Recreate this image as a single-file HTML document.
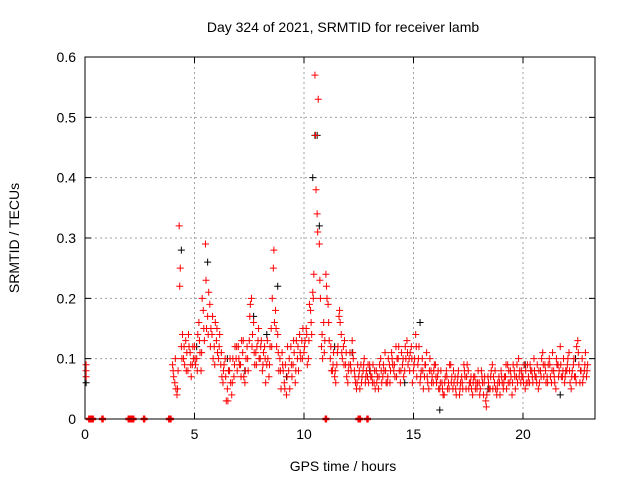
<!DOCTYPE html>
<html><head><meta charset="utf-8">
<style>
body{margin:0;background:#fff;}
svg{display:block;font-family:"Liberation Sans",sans-serif;}
</style></head>
<body>
<svg id="chart" width="640" height="480" xmlns="http://www.w3.org/2000/svg">
<rect width="640" height="480" fill="#fff"/>
<text x="343" y="32" font-size="14" text-anchor="middle">Day 324 of 2021, SRMTID for receiver lamb</text>
<text x="343" y="471" font-size="14" text-anchor="middle">GPS time / hours</text>
<text x="19" y="238" font-size="14" text-anchor="middle" transform="rotate(-90 19 238)">SRMTID / TECUs</text>
<g id="grid"></g>
<g id="marks"></g>
<rect x="85" y="57" width="510" height="362" fill="none" stroke="#000" stroke-width="1"/>
<g id="axes"></g>
</svg>
<script>
const xTicks=[0,5,10,15,20];
const yTicks=[0,0.1,0.2,0.3,0.4,0.5,0.6];
const yTickLabels=["0","0.1","0.2","0.3","0.4","0.5","0.6"];
const seriesStart=4.0;
const redA=[0.09,0.06,0.04,0.32,0.12,0.10,0.13,0.08,0.11,0.09,
0.12,0.10,0.16,0.08,0.18,0.29,0.17,0.19,0.14,0.12,
0.13,0.10,0.09,0.06,0.10,0.05,0.08,0.04,0.07,0.10,
0.12,0.09,0.11,0.06,0.12,0.13,0.20,0.16,0.11,0.13,
0.10,0.08,0.12,0.09,0.07,0.15,0.25,0.18,0.14,0.10,
0.11,0.06,0.04,0.08,0.12,0.09,0.06,0.10,0.14,0.13,
0.11,0.15,0.10,0.18,0.21,0.57,0.34,0.29,0.12,0.16,
0.24,0.19,0.10,0.08,0.07,0.09,0.17,0.14,0.12,0.09,
0.06,0.11,0.13,0.08,0.05,0.07,0.09,0.08,0.06,0.07,
0.09,0.07,0.06,0.08,0.05,0.10,0.07,0.11,0.06,0.09,
0.11,0.08,0.12,0.10,0.06,0.09,0.08,0.13,0.10,0.12,
0.08,0.14,0.09,0.06,0.10,0.07,0.11,0.05,0.08,0.06,
0.09,0.07,0.05,0.06,0.04,0.08,0.06,0.09,0.05,0.07,
0.06,0.04,0.07,0.09,0.05,0.08,0.06,0.04,0.07,0.05,
0.06,0.08,0.04,0.03,0.07,0.05,0.09,0.06,0.04,0.07,
0.08,0.05,0.07,0.09,0.06,0.04,0.08,0.07,0.10,0.06,
0.07,0.05,0.09,0.06,0.08,0.10,0.07,0.05,0.08,0.11,
0.09,0.07,0.10,0.06,0.08,0.05,0.09,0.12,0.07,0.06,
0.08,0.11,0.05,0.09,0.07,0.13,0.06,0.10,0.08,0.07];
const redB=[0.07,0.05,0.08,0.25,0.14,0.09,0.11,0.12,0.07,0.10,
0.09,0.14,0.11,0.20,0.13,0.15,0.21,0.15,0.10,0.16,
0.11,0.14,0.07,0.09,0.03,0.08,0.06,0.10,0.12,0.08,
0.09,0.13,0.07,0.10,0.08,0.19,0.14,0.09,0.12,0.10,
0.13,0.11,0.06,0.10,0.12,0.20,0.16,0.12,0.08,0.05,
0.08,0.09,0.12,0.05,0.07,0.11,0.13,0.08,0.10,0.15,
0.13,0.09,0.19,0.14,0.24,0.38,0.53,0.20,0.10,0.13,
0.20,0.13,0.08,0.11,0.06,0.12,0.16,0.10,0.13,0.07,
0.09,0.08,0.10,0.06,0.09,0.05,0.07,0.10,0.08,0.06,
0.07,0.09,0.05,0.07,0.09,0.06,0.08,0.06,0.10,0.08,
0.09,0.07,0.10,0.08,0.11,0.07,0.10,0.09,0.11,0.06,
0.10,0.07,0.12,0.08,0.05,0.09,0.06,0.10,0.07,0.09,
0.06,0.05,0.08,0.04,0.07,0.05,0.09,0.07,0.06,0.04,
0.08,0.06,0.05,0.07,0.09,0.06,0.05,0.07,0.06,0.08,
0.05,0.06,0.07,0.04,0.05,0.08,0.07,0.05,0.06,0.04,
0.06,0.07,0.05,0.08,0.07,0.09,0.05,0.06,0.08,0.07,
0.09,0.06,0.07,0.08,0.06,0.07,0.09,0.06,0.10,0.07,
0.06,0.09,0.07,0.11,0.06,0.09,0.08,0.07,0.10,0.08,
0.10,0.06,0.08,0.07,0.12,0.09,0.08,0.07,0.11,0.09];
const redC=[0.08,0.10,0.05,0.22,0.10,0.12,0.08,0.14,0.09,0.12,
0.10,0.08,0.13,0.11,0.15,0.23,0.14,0.12,0.17,0.09,
0.15,0.12,0.11,0.08,0.07,0.03,0.10,0.06,0.09,0.12,
0.10,0.07,0.13,0.08,0.10,0.17,0.12,0.11,0.09,0.15,
0.12,0.09,0.10,0.13,0.09,0.12,0.28,0.15,0.11,0.08,
0.09,0.05,0.07,0.10,0.09,0.13,0.08,0.12,0.11,0.10,
0.12,0.14,0.13,0.16,0.20,0.47,0.31,0.23,0.14,0.11,
0.22,0.16,0.12,0.09,0.08,0.11,0.18,0.11,0.09,0.11,
0.08,0.09,0.11,0.07,0.06,0.08,0.06,0.09,0.07,0.09,
0.08,0.06,0.08,0.06,0.07,0.08,0.09,0.08,0.07,0.06,
0.10,0.09,0.07,0.12,0.08,0.10,0.12,0.11,0.08,0.10,
0.09,0.12,0.10,0.07,0.08,0.09,0.07,0.08,0.06,0.08,
0.07,0.08,0.06,0.05,0.06,0.07,0.05,0.06,0.08,0.05,
0.07,0.05,0.06,0.08,0.07,0.05,0.07,0.06,0.05,0.06,
0.04,0.07,0.06,0.02,0.06,0.07,0.05,0.08,0.05,0.06,
0.07,0.06,0.09,0.06,0.08,0.06,0.07,0.09,0.07,0.08,
0.06,0.08,0.06,0.09,0.07,0.08,0.06,0.08,0.07,0.09,
0.08,0.06,0.09,0.08,0.07,0.10,0.07,0.09,0.08,0.07,
0.09,0.08,0.07,0.10,0.06,0.11,0.08,0.06,0.09,0.08];
const blackTimes=[0.05,4.4,5.6,7.7,8.8,10.4,10.5,10.6,10.7,11.4,13.0,15.3,16.2,6.5,9.2,12.2,14.6,18.4,20.1,21.7,22.4,5.1,7.3,8.3];
const blackValues=[0.06,0.28,0.26,0.17,0.22,0.40,0.47,0.47,0.32,0.12,0.08,0.16,0.015,0.10,0.07,0.11,0.06,0.05,0.09,0.04,0.10,0.12,0.08,0.14];
const extraRedTimes=[0.05,0.05,0.05,0.2,0.25,0.3,0.35,0.8,2.0,2.05,2.1,2.15,2.2,2.7,3.85,3.9,11.0,12.5,12.55,12.9];
const extraRedValues=[0.09,0.08,0.07,0,0,0,0,0,0,0,0,0,0,0,0,0,0,0,0,0];

const X0=85,X1=595,Y0=419,Y1=57,XMAX=510/21.9,YMAX=0.6;
function xs(t){return X0+t/XMAX*(X1-X0);}
function ys(v){return Y0-v/YMAX*(Y0-Y1);}
const NS="http://www.w3.org/2000/svg";
const grid=document.getElementById('grid'),axes=document.getElementById('axes'),marks=document.getElementById('marks');
function mk(tag,attrs,parent){const e=document.createElementNS(NS,tag);for(const k in attrs)e.setAttribute(k,attrs[k]);parent.appendChild(e);return e;}
xTicks.forEach(t=>{const x=xs(t);
 if(t>0){const g=mk('line',{x1:x,x2:x,y1:Y1,y2:Y0,stroke:'#a0a0a0','stroke-dasharray':'2,3'},grid);
 
 }
 const tk=mk('path',{d:`M${x},${Y0}v-6M${x},${Y1}v6`,stroke:'#000'},axes);
 
 
 const l=mk('text',{x:x,y:Y0+20,'font-size':14,'text-anchor':'middle'},axes);l.textContent=String(t);
 
 
});
yTicks.forEach((v,i)=>{const y=ys(v);
 if(v>0){const g=mk('line',{x1:X0,x2:X1,y1:y,y2:y,stroke:'#a0a0a0','stroke-dasharray':'2,3'},grid);
 
 }
 const tk=mk('path',{d:`M${X0},${y}h6M${X1},${y}h-6`,stroke:'#000'},axes);
 
 
 const l=mk('text',{x:X0-9,y:y+5,'font-size':14,'text-anchor':'end'},axes);l.textContent=yTickLabels[i];
 
 
});
function plus(t,v,color,name){const x=xs(t),y=ys(v);
 const sw=v===0?2.5:1;
 const p=mk('path',{d:`M${x-3.5},${y}h7M${x},${y-3.5}v7`,stroke:color,'stroke-width':sw},marks);
 
 }
blackTimes.forEach((t,i)=>plus(t,blackValues[i],'#000','black-point'));
redA.forEach((v,i)=>plus(seriesStart+i*0.1,v,'#ff0000','red-point'));
redB.forEach((v,i)=>plus(seriesStart+0.05+i*0.1,v,'#ff0000','red-point'));
redC.forEach((v,i)=>plus(seriesStart+0.025+i*0.1,v,'#ff0000','red-point'));
extraRedTimes.forEach((t,i)=>plus(t,extraRedValues[i],'#ff0000','red-point'));
</script>
</body></html>
